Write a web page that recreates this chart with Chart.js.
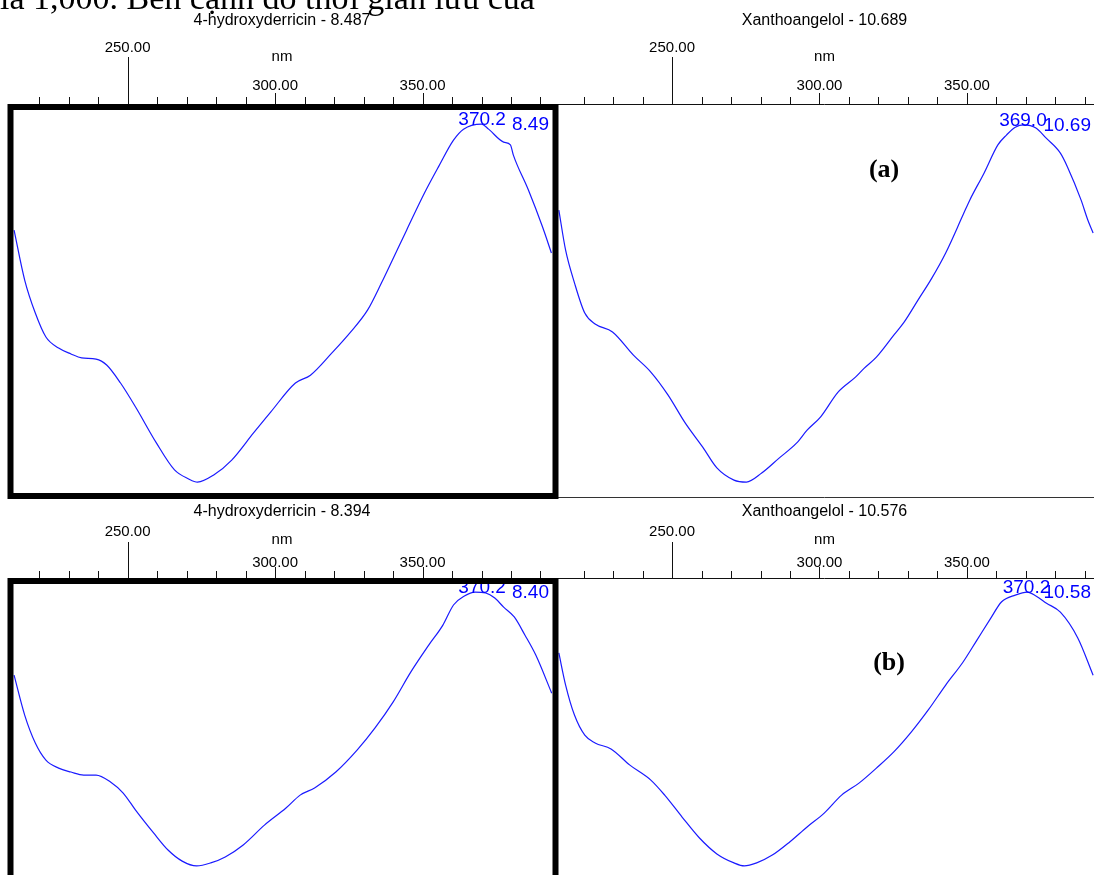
<!DOCTYPE html>
<html>
<head>
<meta charset="utf-8">
<script src="https://cdn.jsdelivr.net/npm/chart.js@4.4.0/dist/chart.umd.min.js"></script>
<style>
  html, body { margin: 0; padding: 0; width: 1094px; height: 875px; overflow: hidden; background: #fff; }
  canvas { position: absolute; }
  #cTL { left: 0; top: 0; z-index: 2; }
  #cTR { left: 550px; top: 0; z-index: 1; }
  #cBL { left: 0; top: 500px; z-index: 2; }
  #cBR { left: 550px; top: 500px; z-index: 1; }
  #docLine {
    position: absolute; left: 0; top: -19px; z-index: 3;
    font: 34px "Liberation Serif", "Times New Roman", serif;
    line-height: 34px; white-space: nowrap; color: #000;
  }
</style>
</head>
<body>
<div id="docLine">là 1,000. Bên cạnh đó thời gian lưu của</div>
<canvas id="cTR" width="544" height="502"></canvas>
<canvas id="cBR" width="544" height="385"></canvas>
<canvas id="cTL" width="562" height="502"></canvas>
<canvas id="cBL" width="562" height="385"></canvas>
<script>
// UV spectra: wavelength (nm) and relative absorbance
const nmTL = [211.5, 215.1, 218.7, 222.3, 226.6, 230.8, 234.4, 239.3, 242.9, 247.6, 252.7, 259.8, 265.9, 270.7, 273.7, 279.2, 285.3, 292.7, 298.5, 306.9, 312.0, 319.2, 325.3, 331.4, 336.1, 339.8, 344.6, 350.7, 355.4, 360.5, 363.9, 370.0, 372.4, 377.5, 379.8, 380.8, 385.9, 390.7, 393.7];
const absTL = [0.679, 0.552, 0.468, 0.407, 0.379, 0.364, 0.354, 0.351, 0.336, 0.290, 0.229, 0.137, 0.069, 0.046, 0.038, 0.056, 0.094, 0.163, 0.216, 0.290, 0.310, 0.366, 0.417, 0.476, 0.545, 0.603, 0.679, 0.774, 0.840, 0.908, 0.936, 0.949, 0.936, 0.903, 0.896, 0.870, 0.781, 0.687, 0.621];

const nmTR = [211.6, 213.9, 216.9, 220.4, 223.9, 229.8, 236.9, 242.8, 248.6, 254.5, 260.4, 265.2, 271.0, 275.2, 280.4, 286.3, 292.2, 295.8, 300.4, 306.3, 312.2, 315.2, 319.3, 325.2, 328.7, 333.4, 338.1, 342.8, 348.7, 351.0, 355.8, 360.5, 363.4, 366.4, 369.3, 373.4, 376.9, 381.7, 384.1, 388.7, 391.0, 392.8];
const absTR = [0.730, 0.628, 0.545, 0.468, 0.440, 0.420, 0.361, 0.318, 0.260, 0.188, 0.127, 0.074, 0.043, 0.038, 0.061, 0.099, 0.137, 0.170, 0.204, 0.267, 0.305, 0.328, 0.356, 0.412, 0.445, 0.501, 0.557, 0.621, 0.718, 0.756, 0.824, 0.896, 0.921, 0.941, 0.947, 0.939, 0.913, 0.875, 0.840, 0.756, 0.705, 0.672];

const nmBL = [211.5, 215.1, 218.7, 222.3, 226.6, 230.8, 235.1, 239.3, 244.2, 248.5, 252.7, 258.8, 263.7, 268.5, 273.4, 278.2, 283.1, 289.2, 296.4, 303.7, 308.5, 313.4, 320.6, 327.8, 333.9, 340.0, 346.0, 352.1, 356.9, 360.5, 364.2, 367.8, 371.4, 374.5, 377.5, 381.1, 384.7, 388.4, 393.8];
const absBL = [0.683, 0.550, 0.457, 0.400, 0.373, 0.360, 0.350, 0.350, 0.327, 0.290, 0.233, 0.157, 0.100, 0.063, 0.047, 0.057, 0.077, 0.117, 0.183, 0.240, 0.283, 0.307, 0.360, 0.433, 0.507, 0.593, 0.693, 0.783, 0.850, 0.917, 0.947, 0.960, 0.957, 0.940, 0.910, 0.877, 0.817, 0.750, 0.623];

const nmBR = [211.6, 213.9, 216.9, 220.4, 223.9, 229.3, 235.7, 242.8, 247.5, 253.4, 259.3, 265.2, 271.0, 274.5, 278.7, 284.0, 289.9, 295.8, 301.6, 307.5, 313.4, 319.3, 325.2, 331.1, 336.9, 342.8, 348.7, 353.4, 358.1, 361.7, 366.4, 370.5, 373.4, 377.0, 381.7, 387.6, 392.8];
const absBR = [0.757, 0.650, 0.550, 0.483, 0.457, 0.437, 0.383, 0.333, 0.283, 0.210, 0.140, 0.087, 0.057, 0.047, 0.057, 0.083, 0.127, 0.177, 0.223, 0.283, 0.323, 0.373, 0.427, 0.493, 0.567, 0.650, 0.727, 0.800, 0.873, 0.927, 0.950, 0.960, 0.947, 0.923, 0.893, 0.807, 0.683];

// titles and peak annotations (TL, TR, BL, BR)
const titles = ["4-hydroxyderricin - 8.487", "Xanthoangelol - 10.689", "4-hydroxyderricin - 8.394", "Xanthoangelol - 10.576"];
const peakNm = [370.2, 369.0, 370.2, 370.2];
const peakText = ["370.2", "369.0", "370.2", "370.2"];
const rtText = ["8.49", "10.69", "8.40", "10.58"];

// top axis ticks
const majorTicks = [250, 300, 350];
const minorStep = 10;

const SANS = '"Liberation Sans", Arial, sans-serif';

// Draws title, top nm axis, peak labels and frames
const panelDeco = {
  id: 'panelDeco',
  afterDraw(chart, args, o) {
    const ctx = chart.ctx, a = chart.chartArea;
    const xs = chart.scales.x, ys = chart.scales.y;
    const cx = (a.left + a.right) / 2;
    ctx.save();
    ctx.fillStyle = '#000';
    ctx.strokeStyle = '#111';
    ctx.lineWidth = 1;
    ctx.textAlign = 'center';
    ctx.textBaseline = 'middle';
    ctx.font = '16px ' + SANS;
    ctx.fillText(o.title, cx, a.top + o.titleDy);
    ctx.font = '15px ' + SANS;
    ctx.fillText('nm', cx, a.top + o.nmDy);

    // axis line and ticks
    ctx.beginPath();
    ctx.moveTo(a.left, a.top + 0.5);
    ctx.lineTo(a.right, a.top + 0.5);
    for (let v = Math.ceil(xs.min / minorStep) * minorStep; v <= xs.max; v += minorStep) {
      const px = Math.round(xs.getPixelForValue(v)) + 0.5;
      let len = 7;
      if (v === majorTicks[0]) len = o.longTick;
      else if (majorTicks.includes(v)) len = 11;
      ctx.moveTo(px, a.top - len);
      ctx.lineTo(px, a.top);
    }
    ctx.stroke();
    majorTicks.forEach((v, i) => {
      const dy = i === 0 ? o.firstLabelDy : o.labelDy;
      ctx.fillText(v.toFixed(2), xs.getPixelForValue(v), a.top + dy);
    });

    // peak wavelength + retention time
    const ds = chart.data.datasets[0].data;
    const yPeak = ys.getPixelForValue(Math.max(...ds.map(p => p.y)));
    ctx.fillStyle = '#0000ff';
    ctx.font = '19px ' + SANS;
    ctx.textBaseline = 'alphabetic';
    ctx.textAlign = 'center';
    ctx.fillText(o.peakText, xs.getPixelForValue(o.peakNm), yPeak + 1);
    ctx.textAlign = 'right';
    ctx.fillText(o.rtText, a.right - 3, yPeak + 6);

    // (a) / (b) tag
    if (o.tag) {
      ctx.fillStyle = '#000';
      ctx.font = 'bold 26px "Liberation Serif", "Times New Roman", serif';
      ctx.textAlign = 'center';
      ctx.textBaseline = 'middle';
      ctx.fillText(o.tag, xs.getPixelForValue(o.tagNm), ys.getPixelForValue(o.tagAbs));
    }

    if (o.box) {
      ctx.strokeStyle = '#000';
      ctx.lineWidth = 6;
      ctx.strokeRect(a.left - 1.5, a.top + 3, a.right - a.left + 5, a.bottom - a.top - 4);
    } else {
      ctx.strokeStyle = '#333';
      ctx.beginPath();
      ctx.moveTo(a.left, a.bottom + 0.5);
      ctx.lineTo(a.right, a.bottom + 0.5);
      ctx.stroke();
    }
    ctx.restore();
  }
};

function makePanel(id, nm, abs, i, cfg) {
  new Chart(document.getElementById(id), {
    type: 'line',
    data: {
      datasets: [{
        data: nm.map((w, k) => ({ x: w, y: abs[k] })),
        borderColor: '#1a1aff',
        borderWidth: 1.2,
        pointRadius: 0,
        cubicInterpolationMode: 'monotone',
        fill: false
      }]
    },
    options: {
      responsive: false,
      animation: false,
      layout: { padding: cfg.padding },
      scales: {
        x: { type: 'linear', min: cfg.xMin, max: cfg.xMax, display: false },
        y: { min: 0, max: cfg.yMax, display: false }
      },
      plugins: {
        legend: { display: false },
        tooltip: { enabled: false },
        panelDeco: Object.assign({
          title: titles[i], peakNm: peakNm[i], peakText: peakText[i], rtText: rtText[i]
        }, cfg.deco)
      }
    },
    plugins: [panelDeco]
  });
}

const topRow = { titleDy: -83, firstLabelDy: -56, nmDy: -47, labelDy: -18, longTick: 47 };
const botRow = { titleDy: -66, firstLabelDy: -46, nmDy: -38, labelDy: -15, longTick: 36 };

makePanel('cTR', nmTR, absTR, 1, {
  padding: { left: 5, right: 0, top: 104, bottom: 5 }, xMin: 210.3, xMax: 393.1, yMax: 1,
  deco: Object.assign({ box: false, tag: '(a)', tagNm: 321.9, tagAbs: 0.832 }, topRow)
});
makePanel('cBR', nmBR, absBR, 3, {
  padding: { left: 5, right: 0, top: 78, bottom: 5 }, xMin: 210.3, xMax: 393.1, yMax: 1.007,
  deco: Object.assign({ box: false, tag: '(b)', tagNm: 323.6, tagAbs: 0.723 }, botRow)
});
makePanel('cTL', nmTL, absTL, 0, {
  padding: { left: 12, right: 10, top: 104, bottom: 5 }, xMin: 210.8, xMax: 393.9, yMax: 1,
  deco: Object.assign({ box: true }, topRow)
});
makePanel('cBL', nmBL, absBL, 2, {
  padding: { left: 12, right: 10, top: 78, bottom: 5 }, xMin: 210.8, xMax: 393.9, yMax: 1.007,
  deco: Object.assign({ box: true }, botRow)
});
</script>
</body>
</html>
